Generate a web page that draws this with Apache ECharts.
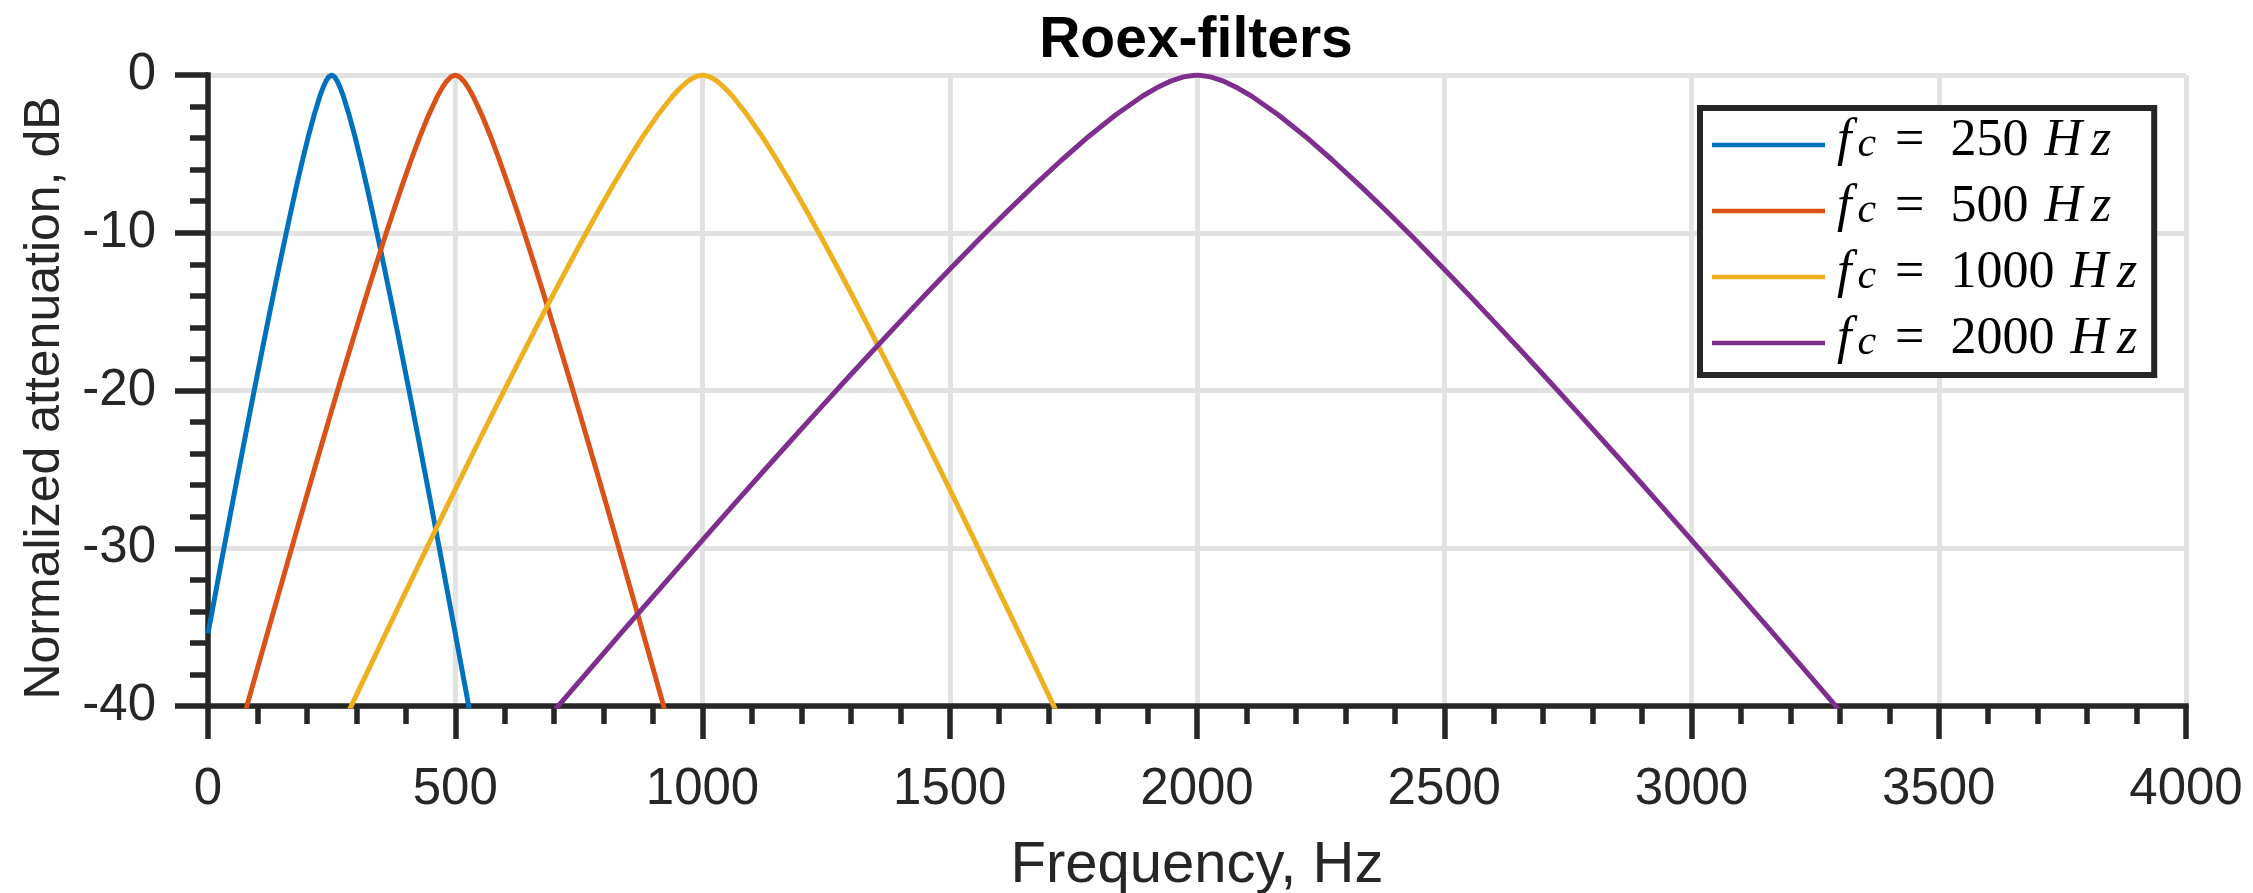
<!DOCTYPE html>
<html><head><meta charset="utf-8">
<script src="https://cdn.jsdelivr.net/npm/echarts@6/dist/echarts.min.js"></script>
<style>html,body{margin:0;padding:0;background:#fff}#chart{width:2253px;height:893px}</style>
</head><body><div id="chart"></div>
<script>
// ---- text ----
const titleText = 'Roex-filters';
const xAxisName = 'Frequency, Hz';
const yAxisName = 'Normalized attenuation, dB';
const seriesNames = ['fc = 250 Hz', 'fc = 500 Hz', 'fc = 1000 Hz', 'fc = 2000 Hz'];
const centerFreqLabels = ['250', '500', '1000', '2000'];

// ---- axis ranges ----
const xRange = [0, 4000, 500];
const yRange = [-40, 0, 10];

// ---- series values (frequency in Hz, attenuation in dB) ----
const freq250 = [0, 2.4, 14.2, 25.9, 37.7, 49.5, 61.3, 73.1, 84.9, 96.7, 108.5, 120.3, 132.1, 143.9, 155.7, 167.5, 179.2, 191.0, 202.8, 214.6, 226.4, 232.3, 238.2, 244.1, 250, 255.9, 261.8, 267.7, 273.6, 285.4, 297.2, 309.0, 320.8, 332.5, 344.3, 356.1, 367.9, 379.7, 391.5, 403.3, 415.1, 426.9, 438.7, 450.5, 462.3, 474.1, 485.8, 497.6, 509.4, 521.2, 533.0];
const att250 = [-35.39, -34.99, -33.02, -31.05, -29.09, -27.14, -25.20, -23.28, -21.37, -19.48, -17.61, -15.76, -13.93, -12.14, -10.38, -8.67, -7.01, -5.42, -3.91, -2.54, -1.33, -0.83, -0.41, -0.12, 0, -0.12, -0.41, -0.83, -1.33, -2.54, -3.91, -5.42, -7.01, -8.67, -10.38, -12.14, -13.93, -15.76, -17.61, -19.48, -21.37, -23.28, -25.20, -27.14, -29.09, -31.05, -33.02, -34.99, -36.98, -38.98, -40.98];

const freq500 = [69.9, 87.8, 105.7, 123.7, 141.6, 159.5, 177.4, 195.3, 213.3, 231.2, 249.1, 267.0, 285.0, 302.9, 320.8, 338.7, 356.6, 374.6, 392.5, 410.4, 428.3, 446.2, 464.2, 473.1, 482.1, 491.0, 500, 509.0, 517.9, 526.9, 535.8, 553.8, 571.7, 589.6, 607.5, 625.5, 643.4, 661.3, 679.2, 697.1, 715.1, 733.0, 750.9, 768.8, 786.7, 804.7, 822.6, 840.5, 858.4, 876.3, 894.3, 912.2, 930.1];
const att500 = [-40.98, -38.98, -36.98, -34.99, -33.02, -31.05, -29.09, -27.14, -25.20, -23.28, -21.37, -19.48, -17.61, -15.76, -13.93, -12.14, -10.38, -8.67, -7.01, -5.42, -3.91, -2.54, -1.33, -0.83, -0.41, -0.12, 0, -0.12, -0.41, -0.83, -1.33, -2.54, -3.91, -5.42, -7.01, -8.67, -10.38, -12.14, -13.93, -15.76, -17.61, -19.48, -21.37, -23.28, -25.20, -27.14, -29.09, -31.05, -33.02, -34.99, -36.98, -38.98, -40.98];

const freq1000 = [274.9, 305.1, 335.4, 365.6, 395.8, 426.0, 456.2, 486.4, 516.6, 546.8, 577.0, 607.3, 637.5, 667.7, 697.9, 728.1, 758.3, 788.5, 818.7, 848.9, 879.2, 909.4, 939.6, 954.7, 969.8, 984.9, 1000, 1015.1, 1030.2, 1045.3, 1060.4, 1090.6, 1120.8, 1151.1, 1181.3, 1211.5, 1241.7, 1271.9, 1302.1, 1332.3, 1362.5, 1392.8, 1423.0, 1453.2, 1483.4, 1513.6, 1543.8, 1574.0, 1604.2, 1634.4, 1664.7, 1694.9, 1725.1];
const att1000 = [-40.98, -38.98, -36.98, -34.99, -33.02, -31.05, -29.09, -27.14, -25.20, -23.28, -21.37, -19.48, -17.61, -15.76, -13.93, -12.14, -10.38, -8.67, -7.01, -5.42, -3.91, -2.54, -1.33, -0.83, -0.41, -0.12, 0, -0.12, -0.41, -0.83, -1.33, -2.54, -3.91, -5.42, -7.01, -8.67, -10.38, -12.14, -13.93, -15.76, -17.61, -19.48, -21.37, -23.28, -25.20, -27.14, -29.09, -31.05, -33.02, -34.99, -36.98, -38.98, -40.98];

const freq2000 = [681.3, 736.3, 791.2, 846.2, 901.1, 956.0, 1011.0, 1065.9, 1120.9, 1175.8, 1230.8, 1285.7, 1340.7, 1395.6, 1450.5, 1505.5, 1560.4, 1615.4, 1670.3, 1725.3, 1780.2, 1835.2, 1890.1, 1917.6, 1945.1, 1972.5, 2000, 2027.5, 2054.9, 2082.4, 2109.9, 2164.8, 2219.8, 2274.7, 2329.7, 2384.6, 2439.6, 2494.5, 2549.5, 2604.4, 2659.3, 2714.3, 2769.2, 2824.2, 2879.1, 2934.1, 2989.0, 3044.0, 3098.9, 3153.8, 3208.8, 3263.7, 3318.7];
const att2000 = [-40.98, -38.98, -36.98, -34.99, -33.02, -31.05, -29.09, -27.14, -25.20, -23.28, -21.37, -19.48, -17.61, -15.76, -13.93, -12.14, -10.38, -8.67, -7.01, -5.42, -3.91, -2.54, -1.33, -0.83, -0.41, -0.12, 0, -0.12, -0.41, -0.83, -1.33, -2.54, -3.91, -5.42, -7.01, -8.67, -10.38, -12.14, -13.93, -15.76, -17.61, -19.48, -21.37, -23.28, -25.20, -27.14, -29.09, -31.05, -33.02, -34.99, -36.98, -38.98, -40.98];

// ---- styling ----
const ink = '#262626';
const gridGray = '#e2e2e2';
const colors = ['#0072BD', '#D95319', '#EDB120', '#7E2F8E'];
const sans = 'Liberation Sans, Arial, Helvetica, sans-serif';
const serif = 'Liberation Serif, Times New Roman, serif';

const freqs = [freq250, freq500, freq1000, freq2000];
const atts = [att250, att500, att1000, att2000];

const chart = echarts.init(document.getElementById('chart'), null, {renderer: 'canvas', width: 2253, height: 893});

const series = seriesNames.map((name, i) => ({
  name: name,
  type: 'line',
  data: freqs[i].map((f, j) => [f, atts[i][j]]),
  symbol: 'none',
  showSymbol: false,
  smooth: false,
  clip: true,
  silent: true,
  color: colors[i],
  lineStyle: {color: colors[i], width: 5, join: 'round', cap: 'butt'},
  itemStyle: {color: colors[i]},
  emphasis: {disabled: true}
}));

function axisCommon() {
  return {
    type: 'value',
    nameLocation: 'middle',
    axisLine: {show: true, onZero: false, lineStyle: {color: ink, width: 5.5, cap: 'square'}},
    axisTick: {show: true, inside: false, length: 33, lineStyle: {color: ink, width: 5.5}},
    minorTick: {show: true, splitNumber: 5, length: 18, lineStyle: {color: ink, width: 5.5}},
    splitLine: {show: true, lineStyle: {color: gridGray, width: 5}},
    minorSplitLine: {show: false},
    axisLabel: {fontFamily: sans, fontSize: 51, color: ink, formatter: v => String(v)}
  };
}

const xAxis = Object.assign(axisCommon(), {
  min: xRange[0], max: xRange[1], interval: xRange[2],
  name: xAxisName, nameGap: 131,
  nameTextStyle: {fontFamily: sans, fontSize: 58, color: ink}
});
xAxis.axisLabel.margin = 58;

const yAxis = Object.assign(axisCommon(), {
  min: yRange[0], max: yRange[1], interval: yRange[2],
  name: yAxisName, nameGap: 138, nameRotate: 90,
  nameTextStyle: {fontFamily: sans, fontSize: 50, color: ink, padding: [0, 15, 0, 0]}
});
yAxis.axisLabel.margin = 52;
yAxis.axisLabel.padding = [6, 0, 0, 0];

const richBase = {fontFamily: serif, fontSize: 52, lineHeight: 50, color: '#000'};
const option = {
  animation: false,
  backgroundColor: '#fff',
  title: {
    text: titleText, left: 1196, top: 13, textAlign: 'center', padding: 0,
    textStyle: {fontFamily: sans, fontWeight: 'bold', fontSize: 57, color: '#000'}
  },
  grid: {left: 208, right: 67, top: 75, bottom: 187, containLabel: false, outerBoundsMode: 'none'},
  xAxis: xAxis,
  yAxis: yAxis,
  legend: {
    orient: 'vertical', left: 1700, top: 108,
    padding: [7, 17, 3, 12], itemGap: 7,
    itemWidth: 113, itemHeight: 4.5, icon: 'rect',
    backgroundColor: '#fff', borderColor: ink, borderWidth: 6, borderRadius: 0,
    selectedMode: false,
    data: seriesNames,
    formatter: name => {
      const i = seriesNames.indexOf(name);
      return '{f|f}{c|c}{eq|=}{n|' + centerFreqLabels[i] + '}{h|H}{z|z}';
    },
    textStyle: {
      color: '#000', fontFamily: serif, fontSize: 52, lineHeight: 50,
      padding: [0, 0, 8, 0],
      rich: {
        f: Object.assign({}, richBase, {fontStyle: 'italic', padding: [0, 6, 0, 7]}),
        c: Object.assign({}, richBase, {fontStyle: 'italic', fontSize: 42, lineHeight: 20, verticalAlign: 'bottom'}),
        eq: Object.assign({}, richBase, {padding: [0, 26, 0, 19]}),
        n: Object.assign({}, richBase),
        h: Object.assign({}, richBase, {fontStyle: 'italic', padding: [0, 9, 0, 16]}),
        z: Object.assign({}, richBase, {fontStyle: 'italic'})
      }
    }
  },
  series: series
};
chart.setOption(option);
</script>
</body></html>
